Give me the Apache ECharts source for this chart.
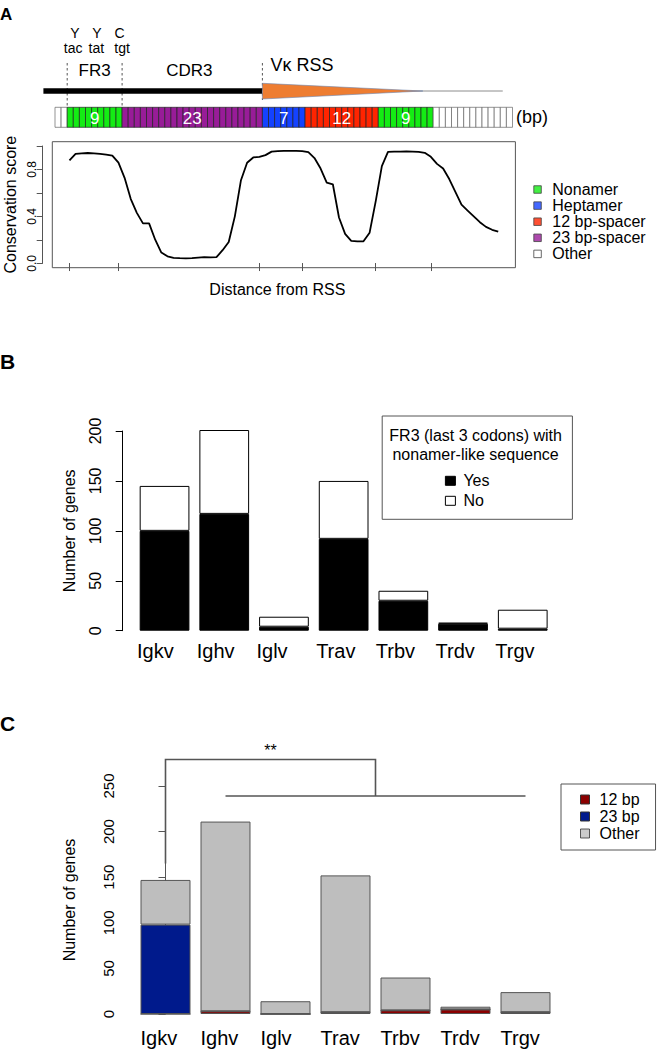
<!DOCTYPE html>
<html><head><meta charset="utf-8">
<script src="https://cdn.jsdelivr.net/npm/echarts@6/dist/echarts.min.js"></script>
<style>html,body{margin:0;padding:0;background:#fff}#c{width:660px;height:1050px}</style>
</head><body><div id="c"></div>
<script>
// ---------- Panel A data ----------
const regionNames = ['Other', 'Nonamer', '23 bp-spacer', 'Heptamer', '12 bp-spacer', 'Nonamer', 'Other'];
const regionLengths = [2, 9, 23, 7, 12, 9, 13];
const regionLabels = ['', '9', '23', '7', '12', '9', ''];
const legendA = ['Nonamer', 'Heptamer', '12 bp-spacer', '23 bp-spacer', 'Other'];
const consPos = [-31,-30,-29,-28,-27,-26,-25,-24,-23,-22,-21,-20,-19,-18,-17,-16,-15,-14,-13,-12,-11,-10,-9,-8,-7,-6,-5,-4,-3,-2,-1,0,1,2,3,4,5,6,7,8,9,10,11,12,13,14,15,16,17,18,19,20,21,22,23,24,25,26,27,28,29,30,31,32,33,34,35,36,37,38,39];
const consScore = [0.88,0.935,0.94,0.943,0.94,0.936,0.93,0.92,0.86,0.73,0.55,0.43,0.34,0.34,0.20,0.09,0.058,0.045,0.042,0.04,0.042,0.046,0.05,0.048,0.05,0.11,0.18,0.40,0.71,0.86,0.905,0.91,0.925,0.955,0.96,0.962,0.962,0.962,0.96,0.95,0.90,0.81,0.69,0.675,0.39,0.25,0.19,0.185,0.186,0.26,0.53,0.83,0.952,0.955,0.955,0.957,0.955,0.953,0.945,0.91,0.85,0.81,0.72,0.61,0.50,0.45,0.40,0.35,0.31,0.285,0.27];
const consTicks = [-31, -23, 0, 7, 19, 28];
const consYTicks = [0, 0.2, 0.4, 0.6, 0.8, 1.0];
const consYLabels = [0, 0.4, 0.8];
const codonAA = ['Y', 'Y', 'C'];
const codonNT = ['tac', 'tat', 'tgt'];

// ---------- Panel B data ----------
const genes = ['Igkv', 'Ighv', 'Iglv', 'Trav', 'Trbv', 'Trdv', 'Trgv'];
const nonamerYes = [100, 117, 4, 92, 30, 7, 2];
const nonamerNo = [45, 84, 10, 58, 10, 1, 19];
const yTicksB = [0, 50, 100, 150, 200];

// ---------- Panel C data ----------
const spacer12 = [0, 3, 0, 2, 4, 5, 2];
const spacer23 = [98, 0, 0, 0, 0, 0, 0];
const otherC = [49, 208, 14, 150, 36, 3, 22];
const yTicksC = [0, 50, 100, 150, 200, 250];
// significance bracket: Igkv vs (Ighv..Trgv)
const bracketGroupA = 0, bracketGroupFrom = 1, bracketGroupTo = 6;
const bracketTop = 279, bracketLow = 239, bracketLeftBottom = 165;
const bracketLabel = '**';

// ---------- styles ----------
const FONT = '"Liberation Sans", Arial, Helvetica, sans-serif';
const regionColor = {'Nonamer':'#14ec14','Heptamer':'#1442ff','12 bp-spacer':'#ff2400','23 bp-spacer':'#981c98','Other':'#ffffff'};
const regionStarts = []; let acc = 0;
regionLengths.forEach(l => { regionStarts.push(acc); acc += l; });
const totalCells = acc;

const chart = echarts.init(document.getElementById('c'), null, {renderer: 'svg', width: 660, height: 1050});

const catLabel = (w, m) => ({
  interval: 0, margin: m,
  formatter: v => '{a|' + v + '}',
  rich: {a: {width: w, align: 'left', fontSize: 20, color: '#000', fontFamily: FONT}}
});

const option = {
  animation: false,
  textStyle: {fontFamily: FONT, color: '#000'},
  grid: [
    {left: 55, top: 107.3, width: 457.5, height: 20, outerBoundsMode: 'none'},
    {left: 52.3, top: 141.7, width: 463.1, height: 126, show: true, borderColor: '#555', borderWidth: 1, backgroundColor: 'transparent', outerBoundsMode: 'none'},
    {left: 42.7, top: 146, width: 10, height: 117.3, outerBoundsMode: 'none'},
    {left: 134.7, top: 431, width: 417.9, height: 199.7, outerBoundsMode: 'none'},
    {left: 135.5, top: 786, width: 420, height: 228, outerBoundsMode: 'none'}
  ],
  xAxis: [
    {gridIndex: 0, type: 'value', min: 0, max: totalCells, show: false},
    {gridIndex: 1, type: 'value', min: -33.8, max: 41.8,
     axisLine: {show: false}, splitLine: {show: false}, axisLabel: {show: false},
     axisTick: {show: true, customValues: consTicks, length: 8, lineStyle: {color: '#555', width: 1}},
     name: 'Distance from RSS', nameLocation: 'middle', nameGap: 14,
     nameTextStyle: {fontSize: 16, color: '#000', verticalAlign: 'top', padding: [0, 13, 0, 0]}},
    {gridIndex: 2, type: 'value', min: 0, max: 1, show: false},
    {gridIndex: 3, type: 'category', data: genes, axisLine: {show: false}, axisTick: {show: false}, axisLabel: catLabel(55, 10)},
    {gridIndex: 4, type: 'category', data: genes, axisLine: {show: false}, axisTick: {show: false}, axisLabel: catLabel(50, 14)},
    {gridIndex: 4, type: 'value', min: -0.5, max: genes.length - 0.5, show: false}
  ],
  yAxis: [
    {gridIndex: 0, type: 'value', min: 0, max: 1, show: false},
    {gridIndex: 1, type: 'value', min: -0.04, max: 1.04, show: false},
    {gridIndex: 2, type: 'value', min: 0, max: 1, interval: 0.2,
     axisLine: {show: true, lineStyle: {color: '#555', width: 1}},
     axisTick: {show: true, length: 6, customValues: consYTicks, lineStyle: {color: '#555'}},
     axisLabel: {customValues: consYLabels, formatter: v => Number(v).toFixed(1), rotate: 90, fontSize: 12, margin: 5, color: '#000'},
     splitLine: {show: false},
     name: 'Conservation score', nameLocation: 'middle', nameRotate: 90, nameGap: 24,
     nameTextStyle: {fontSize: 16, color: '#000'}},
    {gridIndex: 3, type: 'value', min: 0, max: 200, interval: 50, offset: 12,
     axisLine: {show: true, lineStyle: {color: '#000', width: 1}},
     axisTick: {show: true, length: 7, lineStyle: {color: '#000'}},
     axisLabel: {rotate: 90, fontSize: 16, margin: 19, color: '#000'},
     splitLine: {show: false},
     name: 'Number of genes', nameLocation: 'middle', nameRotate: 90, nameGap: 45,
     nameTextStyle: {fontSize: 16, color: '#000'}},
    {gridIndex: 4, type: 'value', min: 0, max: 250, interval: 50, offset: 12.2,
     axisLine: {show: true, lineStyle: {color: '#555', width: 1}},
     axisTick: {show: true, length: 7, lineStyle: {color: '#555'}},
     axisLabel: {rotate: 90, fontSize: 15, margin: 7, color: '#000'},
     splitLine: {show: false},
     name: 'Number of genes', nameLocation: 'middle', nameRotate: 90, nameGap: 46,
     nameTextStyle: {fontSize: 16, color: '#000'}}
  ],
  legend: [
    {left: 533.3, top: 181.5, orient: 'vertical', padding: 0, itemGap: 0.1, itemWidth: 7.5, itemHeight: 7.5,
     icon: 'rect', selectedMode: false,
     itemStyle: {borderColor: '#444', borderWidth: 1},
     textStyle: {fontSize: 16, lineHeight: 16, color: '#000', padding: [0, 0, 0, 6]},
     data: legendA.map(n => ({name: n, itemStyle: {color: regionColor[n], borderColor: '#444', borderWidth: 1}}))},
    {left: 444.9, top: 472.8, orient: 'vertical', padding: 0, itemGap: 4, itemWidth: 10, itemHeight: 9,
     icon: 'rect', selectedMode: false,
     itemStyle: {borderColor: '#000', borderWidth: 1},
     textStyle: {fontSize: 16, lineHeight: 16, color: '#000', padding: [0, 0, 0, 3]},
     data: ['Yes', 'No']},
    {left: 561, top: 784, orient: 'vertical', padding: [7, 16, 8, 19], itemGap: 0, itemWidth: 9, itemHeight: 9,
     icon: 'rect', selectedMode: false, borderColor: '#555', borderWidth: 1,
     itemStyle: {borderColor: '#333', borderWidth: 1},
     textStyle: {fontSize: 16, lineHeight: 17, color: '#000', padding: [0, 0, 0, 5]},
     data: [{name: '12 bp', itemStyle: {color: '#8b0000'}}, {name: '23 bp', itemStyle: {color: '#001a8c'}}, {name: 'Other', itemStyle: {color: '#bebebe'}}]}
  ],
  series: [
    {type: 'custom', name: 'cells', xAxisIndex: 0, yAxisIndex: 0, clip: false, silent: true,
     data: regionNames.map((n, i) => [regionStarts[i], regionLengths[i], i]),
     renderItem: (params, api) => {
       const start = api.value(0), len = api.value(1), idx = api.value(2);
       const col = regionColor[regionNames[idx]];
       const children = [];
       for (let k = 0; k < len; k++) {
         const p0 = api.coord([start + k, 1]), p1 = api.coord([start + k + 1, 0]);
         children.push({type: 'rect', shape: {x: p0[0], y: p0[1], width: p1[0] - p0[0], height: p1[1] - p0[1]},
           style: {fill: col, stroke: col === '#ffffff' ? '#666' : '#222', lineWidth: 0.7}});
       }
       if (regionLabels[idx]) {
         const c = api.coord([start + len / 2, 0.5]);
         children.push({type: 'text', x: c[0], y: c[1] + 1,
           style: {text: regionLabels[idx], fill: '#fff', fontSize: 17, fontFamily: FONT, align: 'center', verticalAlign: 'middle'}});
       }
       return {type: 'group', children};
     }},
    {type: 'line', name: 'conservation', xAxisIndex: 1, yAxisIndex: 1, showSymbol: false, symbol: 'none', silent: true,
     lineStyle: {color: '#000', width: 1.8}, data: consPos.map((p, i) => [p, consScore[i]])},
    ...legendA.map(n => ({type: 'scatter', name: n, xAxisIndex: 0, yAxisIndex: 0, data: [], itemStyle: {color: regionColor[n]}})),
    {type: 'bar', name: 'Yes', xAxisIndex: 3, yAxisIndex: 3, stack: 'b', barWidth: '83.3%', clip: false, data: nonamerYes,
     itemStyle: {color: '#000', borderColor: '#000', borderWidth: 1}},
    {type: 'bar', name: 'No', xAxisIndex: 3, yAxisIndex: 3, stack: 'b', barWidth: '83.3%', clip: false, data: nonamerNo,
     itemStyle: {color: '#fff', borderColor: '#000', borderWidth: 1}},
    {type: 'bar', name: '12 bp', xAxisIndex: 4, yAxisIndex: 4, stack: 'c', barWidth: '83.3%', clip: false, data: spacer12,
     itemStyle: {color: '#8b0000', borderColor: '#555', borderWidth: 1}},
    {type: 'bar', name: '23 bp', xAxisIndex: 4, yAxisIndex: 4, stack: 'c', barWidth: '83.3%', clip: false, data: spacer23,
     itemStyle: {color: '#001a8c', borderColor: '#555', borderWidth: 1}},
    {type: 'bar', name: 'Other', xAxisIndex: 4, yAxisIndex: 4, stack: 'c', barWidth: '83.3%', clip: false, data: otherC,
     itemStyle: {color: '#bebebe', borderColor: '#555', borderWidth: 1}},
    {type: 'custom', name: 'bracket', xAxisIndex: 5, yAxisIndex: 4, clip: false, silent: true,
     data: [[bracketGroupA, bracketGroupFrom, bracketGroupTo, bracketTop, bracketLow, bracketLeftBottom]],
     renderItem: (params, api) => {
       const a = api.value(0), f = api.value(1), t = api.value(2), top = api.value(3), low = api.value(4), lb = api.value(5);
       const mid = (f + t) / 2;
       const ls = {stroke: '#555', lineWidth: 1.6, fill: 'none'};
       const star = api.coord([(a + mid) / 2, top]);
       return {type: 'group', children: [
         {type: 'polyline', shape: {points: [api.coord([a, lb]), api.coord([a, top]), api.coord([mid, top]), api.coord([mid, low])]}, style: ls},
         {type: 'line', shape: {x1: api.coord([f, low])[0], y1: api.coord([f, low])[1], x2: api.coord([t, low])[0], y2: api.coord([t, low])[1]}, style: ls},
         {type: 'text', x: star[0], y: star[1] - 9, style: {text: bracketLabel, fill: '#000', fontSize: 16, fontFamily: FONT, align: 'center', verticalAlign: 'middle'}}
       ]};
     }}
  ]
};
chart.setOption(option);

// ---------- schematic / annotations ----------
const X = v => chart.convertToPixel({xAxisIndex: 0}, v);
const txt = (t, x, y, size, opts) => Object.assign({type: 'text', x, y, silent: true,
  style: Object.assign({text: t, fontSize: size, lineHeight: size, fontFamily: FONT, fill: '#000', align: 'center', verticalAlign: 'middle'}, (opts || {}))});
const rssStart = regionStarts[3];
const g = [];
// dashed boundary lines
[[regionStarts[1], 107], [regionStarts[2], 107], [rssStart, 100]].forEach(([c, yb]) => {
  g.push({type: 'line', silent: true, shape: {x1: X(c), y1: 63, x2: X(c), y2: yb}, style: {stroke: '#555', lineWidth: 1, lineDash: [2.5, 2.5]}});
});
// coding segment (thick) and RSS
g.push({type: 'line', silent: true, shape: {x1: X(-1.9), y1: 91, x2: X(rssStart), y2: 91}, style: {stroke: '#000', lineWidth: 5.5}});
g.push({type: 'line', silent: true, shape: {x1: X(rssStart), y1: 91, x2: X(73.4), y2: 91}, style: {stroke: '#8c8c8c', lineWidth: 1}});
g.push({type: 'polygon', silent: true, shape: {points: [[X(rssStart), 83.3], [X(rssStart), 99], [X(60.3), 91]]}, style: {fill: '#ee7d31', stroke: '#6a85b0', lineWidth: 0.6}});
// labels
const aaX = [75, 97, 119.6], ntX = [73.2, 96.4, 122.1];
codonAA.forEach((t, i) => g.push(txt(t, aaX[i], 32.5, 14)));
codonNT.forEach((t, i) => g.push(txt(t, ntX[i], 48, 14)));
g.push(txt('FR3', 94.6, 70.7, 17));
g.push(txt('CDR3', 189.3, 70.7, 17));
g.push(txt('V\u03ba RSS', 270.4, 65, 18, {align: 'left'}));
g.push(txt('(bp)', 516, 117, 18, {align: 'left'}));
// panel letters
g.push(txt('A', 0, 14, 17, {align: 'left', fontWeight: 'bold'}));
g.push(txt('B', 0, 361, 21, {align: 'left', fontWeight: 'bold'}));
g.push(txt('C', 0, 723, 21, {align: 'left', fontWeight: 'bold'}));
// legend B box and title
g.push({type: 'rect', silent: true, shape: {x: 382.2, y: 416, width: 190.2, height: 103.3}, style: {fill: 'none', stroke: '#555', lineWidth: 1}});
g.push(txt('FR3 (last 3 codons) with', 475.6, 435, 16));
g.push(txt('nonamer-like sequence', 475.6, 454.3, 16));
chart.setOption({graphic: g});
</script>
</body></html>
